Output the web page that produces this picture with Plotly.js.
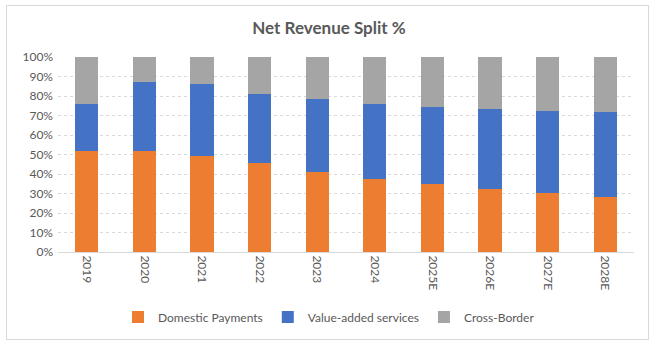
<!DOCTYPE html>
<html>
<head>
<meta charset="utf-8">
<script src="https://cdn.plot.ly/plotly-3.0.1.min.js"></script>
<style>
html,body{margin:0;padding:0;background:#fff;width:658px;height:348px;overflow:hidden;}
#frame{position:absolute;left:6px;top:5px;width:643px;height:335px;border:1px solid #d9d9d9;box-sizing:border-box;}
#chart{position:absolute;left:0;top:0;width:658px;height:348px;}
</style>
</head>
<body>
<div id="frame"></div>
<div id="chart"></div>
<script>
const categories = ["2019","2020","2021","2022","2023","2024","2025E","2026E","2027E","2028E"];
const domesticPayments = [52.0, 52.0, 49.4, 45.8, 41.2, 37.6, 35.0, 32.5, 30.4, 28.4];
const valueAddedServices = [24.1, 35.4, 36.9, 35.4, 37.4, 38.5, 39.5, 41.0, 42.1, 43.6];
const crossBorder = [23.9, 12.6, 13.7, 18.8, 21.4, 23.9, 25.5, 26.5, 27.5, 28.0];
const yTickVals = [0,10,20,30,40,50,60,70,80,90,100];
const yTickText = yTickVals.map(v => v + "%");

const font = "Lato, 'Open Sans', sans-serif";
const textColor = "#595959";

const traces = [
  {name:"Domestic Payments", x:categories, y:domesticPayments, type:"bar", marker:{color:"#ED7D31"}},
  {name:"Value-added services", x:categories, y:valueAddedServices, type:"bar", marker:{color:"#4472C4"}},
  {name:"Cross-Border", x:categories, y:crossBorder, type:"bar", marker:{color:"#A5A5A5"}}
];

const layout = {
  width:658, height:348,
  paper_bgcolor:"rgba(0,0,0,0)", plot_bgcolor:"rgba(0,0,0,0)",
  barmode:"stack", bargap:0.6,
  margin:{l:58, r:24, t:57, b:96},
  font:{family:font, color:textColor, size:12},
  title:{text:"<b>Net Revenue Split %</b>", x:0.5, xref:"container", xanchor:"center", y:1-28/348, yref:"container", yanchor:"middle", font:{family:font, size:17, color:textColor}},
  xaxis:{type:"category", tickangle:90, showline:true, linecolor:"#d9d9d9", linewidth:1, ticks:"", tickfont:{size:12, color:textColor}, showgrid:false},
  yaxis:{range:[0,100], tickvals:yTickVals, ticktext:yTickText, showgrid:true, gridcolor:"#d9d9d9", griddash:"dot", zeroline:false, showline:false, ticks:"", tickfont:{size:12, color:textColor}, ticklabelstandoff:4},
  legend:{orientation:"h", x:0.5, xanchor:"center", xref:"container", y:1-317/348, yref:"container", yanchor:"middle", font:{size:12, color:textColor}, traceorder:"normal", itemwidth:30},
  showlegend:true
};

Plotly.newPlot("chart", traces, layout, {displayModeBar:false, staticPlot:true});
</script>
</body>
</html>
